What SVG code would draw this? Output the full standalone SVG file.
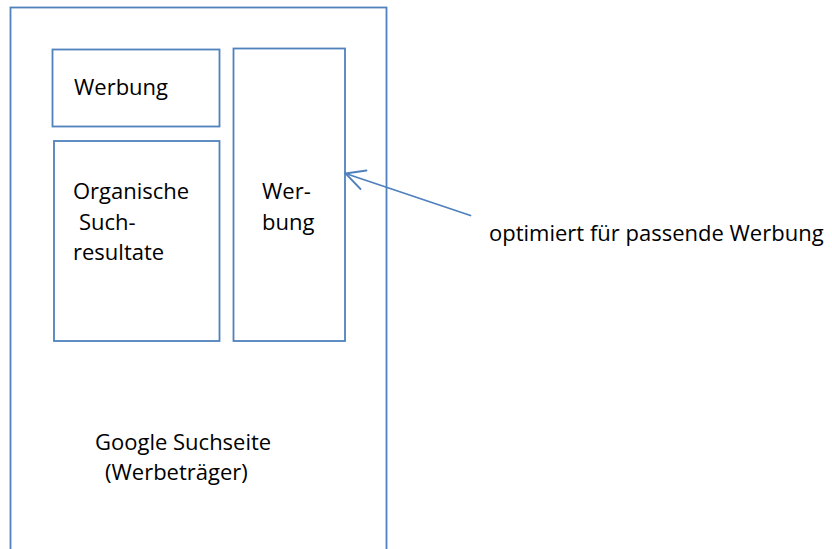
<svg xmlns="http://www.w3.org/2000/svg" width="832" height="549" viewBox="0 0 832 549">
<style>
.box{fill:none;stroke:#4F81BD;stroke-width:1.8}
.conn{fill:none;stroke:#4F81BD;stroke-width:1.8;stroke-linecap:round}
text{font-family:"Open Sans","Noto Sans",sans-serif;font-size:22px;fill:#000}
</style>
<rect width="832" height="549" fill="#fff"/>
<g id="page">
<rect class="box" x="10.5" y="7.5" width="376" height="560"/>
<text x="95" y="450">Google Suchseite</text>
<text x="105" y="480">(Werbeträger)</text>
</g>
<g id="werbung-top">
<rect class="box" x="52.5" y="49.5" width="167" height="77"/>
<text x="74" y="95">Werbung</text>
</g>
<g id="organisch">
<rect class="box" x="54" y="141" width="165.5" height="200"/>
<text x="73" y="199">Organische</text>
<text x="79" y="230">Such-</text>
<text x="73" y="260">resultate</text>
</g>
<g id="werbung-side">
<rect class="box" x="233.5" y="48.5" width="111.5" height="292.5"/>
<text x="262" y="199">Wer-</text>
<text x="262" y="230">bung</text>
</g>
<g id="connectors">
<line class="conn" x1="470.5" y1="215.5" x2="345.5" y2="173.5"/>
<polyline class="conn" points="366.5,170.5 345.5,173.5 360.5,189"/>
</g>
<g id="label">
<text x="489" y="241">optimiert für passende Werbung</text>
</g>
</svg>
